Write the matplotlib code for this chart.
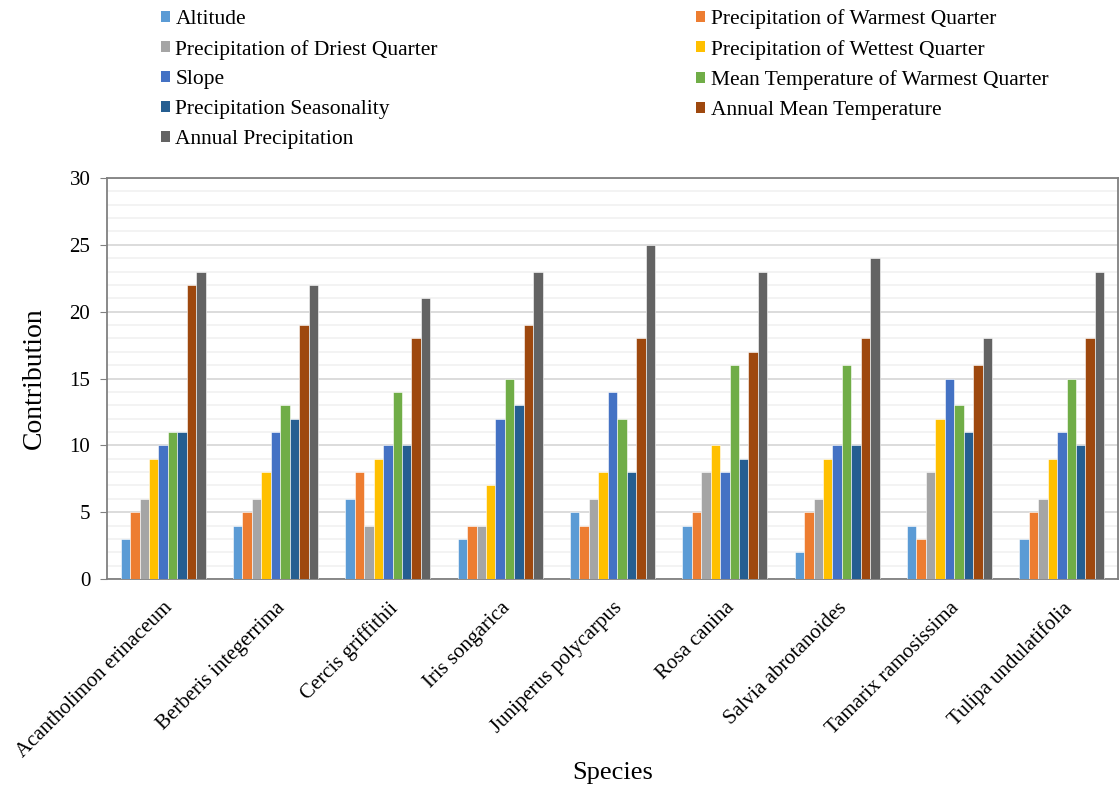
import matplotlib
matplotlib.use("Agg")
import matplotlib.pyplot as plt
import numpy as np
from matplotlib.patches import Patch

plt.rcParams['font.family'] = ['Liberation Serif', 'DejaVu Serif']

species = ["Acantholimon erinaceum", "Berberis integerrima", "Cercis griffithii",
           "Iris songarica", "Juniperus polycarpus", "Rosa canina",
           "Salvia abrotanoides", "Tamarix ramosissima", "Tulipa undulatifolia"]

variables = ["Altitude", "Precipitation of Warmest Quarter", "Precipitation of Driest Quarter",
             "Precipitation of Wettest Quarter", "Slope", "Mean Temperature of Warmest Quarter",
             "Precipitation Seasonality", "Annual Mean Temperature", "Annual Precipitation"]

colors = ["#5B9BD5", "#ED7D31", "#A5A5A5", "#FFC000", "#4472C4", "#70AD47",
          "#255E91", "#9E480E", "#636363"]

altitude = [3, 4, 6, 3, 5, 4, 2, 4, 3]
precip_warmest_q = [5, 5, 8, 4, 4, 5, 5, 3, 5]
precip_driest_q = [6, 6, 4, 4, 6, 8, 6, 8, 6]
precip_wettest_q = [9, 8, 9, 7, 8, 10, 9, 12, 9]
slope = [10, 11, 10, 12, 14, 8, 10, 15, 11]
mean_temp_warmest_q = [11, 13, 14, 15, 12, 16, 16, 13, 15]
precip_seasonality = [11, 12, 10, 13, 8, 9, 10, 11, 10]
annual_mean_temp = [22, 19, 18, 19, 18, 17, 18, 16, 18]
annual_precip = [23, 22, 21, 23, 25, 23, 24, 18, 23]

series = [altitude, precip_warmest_q, precip_driest_q, precip_wettest_q, slope,
          mean_temp_warmest_q, precip_seasonality, annual_mean_temp, annual_precip]

fig = plt.figure(figsize=(11.2, 7.88), dpi=100)
ax = fig.add_axes([107/1120, 1 - 579/788, (1118-107)/1120, (579-178)/788])

x = np.arange(len(species))
n = len(series)
bw = 0.084
for i, (vals, col) in enumerate(zip(series, colors)):
    ax.bar(x + (i - (n - 1) / 2) * bw, vals, width=bw, color=col,
           edgecolor="white", linewidth=0.4, zorder=3)

ax.set_xlim(-0.5, len(species) - 0.5)
ax.set_ylim(0, 30)
ax.set_yticks(np.arange(0, 31, 5))
ax.set_yticks(np.arange(0, 31, 1), minor=True)
ax.grid(axis='y', which='major', color='#D9D9D9', linewidth=1.3, zorder=0)
ax.grid(axis='y', which='minor', color='#F2F2F2', linewidth=1.3, zorder=0)
ax.tick_params(axis='y', which='major', length=5, color='#808080', labelsize=15, pad=7)
ax.tick_params(axis='y', which='minor', length=0)
ax.set_xticks(x)
ax.set_xticklabels(species, rotation=45, ha='right', rotation_mode='anchor', fontsize=15)
ax.tick_params(axis='x', length=0, pad=14)
for s in ax.spines.values():
    s.set_color('#808080')
    s.set_linewidth(1.3)

ax.set_ylabel("Contribution", fontsize=20, labelpad=16)
ax.set_xlabel("Species", fontsize=19, va='center')
# axis label sits below the rotated tick labels
ax.xaxis.set_label_coords(0.5, (579 - 773) / (579 - 178))

handles = [Patch(facecolor=c, edgecolor='none') for c in colors]
order = [0, 2, 4, 6, 8, 1, 3, 5, 7]
fig.legend([handles[i] for i in order], [variables[i] for i in order],
           ncol=2, loc='upper left', bbox_to_anchor=(161/1120, 1 - 9/788),
           frameon=False, fontsize=15.5, handlelength=0.42, handleheight=0.42,
           handletextpad=0.25, columnspacing=12.0, labelspacing=0.5,
           borderpad=0, borderaxespad=0)

fig.savefig("out.png", dpi=100)
